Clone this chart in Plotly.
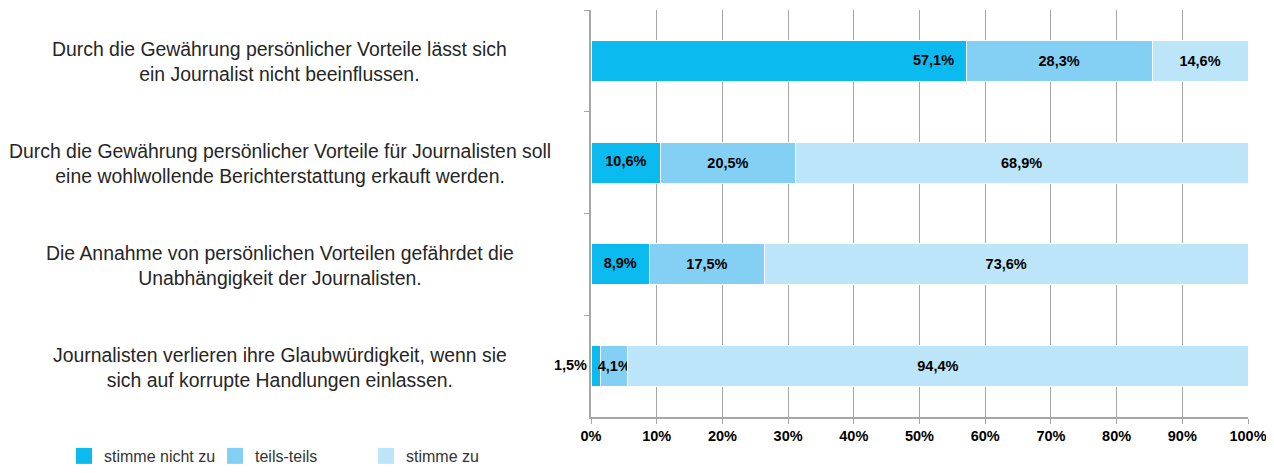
import plotly.graph_objects as go

categories = [
    "Durch die Gewährung persönlicher Vorteile lässt sich<br>ein Journalist nicht beeinflussen.",
    "Durch die Gewährung persönlicher Vorteile für Journalisten soll<br>eine wohlwollende Berichterstattung erkauft werden.",
    "Die Annahme von persönlichen Vorteilen gefährdet die<br>Unabhängigkeit der Journalisten.",
    "Journalisten verlieren ihre Glaubwürdigkeit, wenn sie<br>sich auf korrupte Handlungen einlassen.",
]
cat_ids = ["c1", "c2", "c3", "c4"]
series_names = ["stimme nicht zu", "teils-teils", "stimme zu"]
nicht_zu = [57.1, 10.6, 8.9, 1.5]
teils = [28.3, 20.5, 17.5, 4.1]
stimme_zu = [14.6, 68.9, 73.6, 94.4]
x_ticks = [0, 10, 20, 30, 40, 50, 60, 70, 80, 90, 100]

colors = ["#0BBBEF", "#84D0F5", "#BDE5FA"]
label_font = dict(family="Liberation Sans, Arial, sans-serif", size=14.5, color="#000000", weight="bold")
text_font = dict(family="Liberation Sans, Arial, Helvetica, sans-serif", size=19.4, color="#262626")
legend_font = dict(family="Liberation Sans, Arial, Helvetica, sans-serif", size=16, color="#333333")


def fmt(v):
    return f"{v:.1f}".replace(".", ",") + "%"


fig = go.Figure()
fig.add_trace(go.Bar(
    y=cat_ids, x=nicht_zu, orientation="h", name=series_names[0],
    marker=dict(color=colors[0], line=dict(color="white", width=1)),
    textposition="none", hoverinfo="skip", showlegend=False,
))
for vals, name, col in [(teils, series_names[1], colors[1]), (stimme_zu, series_names[2], colors[2])]:
    fig.add_trace(go.Bar(
        y=cat_ids, x=vals, orientation="h", name=name,
        marker=dict(color=col, line=dict(color="white", width=1)),
        text=[fmt(v) for v in vals], textposition="inside", insidetextanchor="middle",
        constraintext="none", textangle=0, textfont=label_font, cliponaxis=False,
        hoverinfo="skip", showlegend=False,
    ))

# labels for first series (Excel-like placement)
lx, lpos, ltxt = [], [], []
nb = "\u00a0"
for v in nicht_zu:
    if v > 40:
        lx.append(v); lpos.append("middle left"); ltxt.append(fmt(v) + nb * 3)
    elif v < 5:
        lx.append(0); lpos.append("middle left"); ltxt.append(fmt(v) + nb)
    else:
        lx.append(v / 2); lpos.append("middle center"); ltxt.append(fmt(v))
fig.add_trace(go.Scatter(
    y=cat_ids, x=lx, mode="text", text=ltxt,
    textposition=lpos, textfont=label_font, showlegend=False,
    cliponaxis=False, hoverinfo="skip",
))

# legend entries (square swatches)
for name, col in zip(series_names, colors):
    fig.add_trace(go.Scatter(
        x=[None], y=[None], mode="markers", name=name,
        marker=dict(symbol="square", size=16, color=col),
        hoverinfo="skip",
    ))

# category labels, centred
for cid, cat in zip(cat_ids, categories):
    fig.add_annotation(
        x=-0.474, xref="paper", y=cid, yref="y", text=cat, showarrow=False,
        xanchor="center", yanchor="middle", align="center", font=text_font,
        yshift=-1,
    )

# page body has an 8px margin, so the figure is sized to fit the window
fig.update_layout(
    width=1266, height=465,
    margin=dict(l=583, r=26, t=2, b=56, autoexpand=False),
    barmode="stack", bargap=0.597,
    plot_bgcolor="white", paper_bgcolor="white",
    showlegend=True,
    legend=dict(
        orientation="h", xref="container", yref="container",
        x=56 / 1266, y=0.0, xanchor="left", yanchor="bottom",
        font=legend_font, traceorder="normal", itemwidth=30, entrywidth=106,
        bgcolor="rgba(0,0,0,0)",
    ),
    xaxis=dict(
        range=[0, 100], tickvals=x_ticks, ticktext=[f"{t}%" for t in x_ticks],
        showgrid=True, gridcolor="#A6A6A6", gridwidth=1,
        showline=True, linecolor="#A6A6A6", linewidth=1.5,
        ticks="outside", ticklen=5, tickcolor="#A6A6A6",
        tickfont=label_font, zeroline=False, automargin=False,
    ),
    yaxis=dict(
        categoryorder="array", categoryarray=cat_ids, autorange="reversed",
        showticklabels=False, tickson="boundaries",
        ticks="outside", ticklen=5, tickcolor="#A6A6A6",
        showline=True, linecolor="#A6A6A6", linewidth=1.5,
        showgrid=False, zeroline=False, automargin=False,
    ),
)

fig.write_html("out.html")
